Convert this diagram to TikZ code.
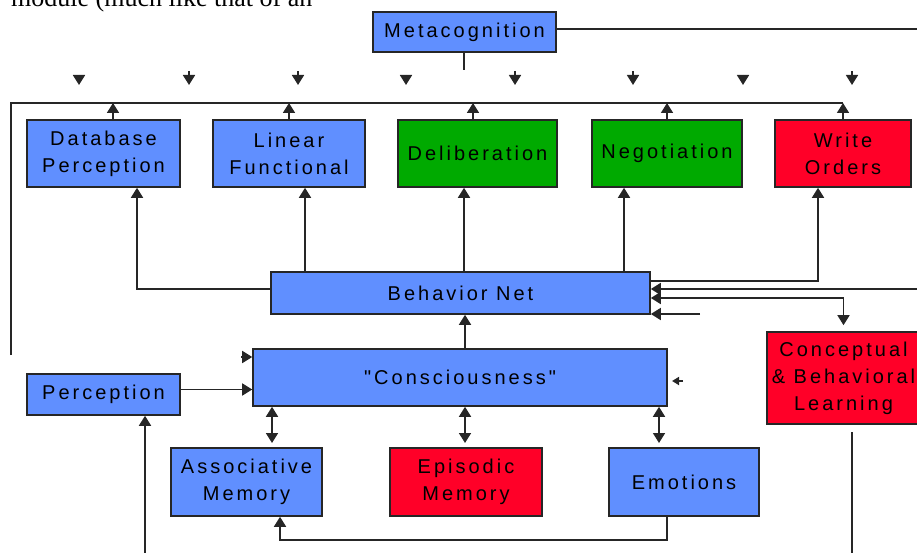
\documentclass[tikz,border=0pt]{standalone}
\usepackage{fontspec}
\setmainfont[Ligatures=TeXOff]{Liberation Sans}
\newfontfamily\bodyserif{Liberation Serif}
\usetikzlibrary{arrows.meta}
\definecolor{modblue}{RGB}{96,143,255}
\definecolor{modgreen}{RGB}{0,170,0}
\definecolor{modred}{RGB}{255,0,40}
\tikzset{
  module/.style={draw=black!85, line width=1.6pt, inner sep=0pt, align=center,
    font=\fontsize{20}{27}\selectfont\addfontfeature{LetterSpace=15}},
  blue/.style={module, fill=modblue},
  green/.style={module, fill=modgreen},
  red/.style={module, fill=modred},
  wire/.style={line width=1.7pt, draw=black!85},
  arr/.style={wire, -{Triangle[width=12pt,length=10pt]}},
  biarr/.style={wire, {Triangle[width=12pt,length=10pt]}-{Triangle[width=12pt,length=10pt]}},
  tick/.style={wire, -{Triangle[width=8pt,length=7pt]}},
}
\begin{document}
\begin{tikzpicture}[x=1pt, y=-1pt]
\useasboundingbox (0,0) rectangle (917,553);
\clip (0,0) rectangle (917,553);

% running text above the figure
\node[anchor=base west, inner sep=0pt, font=\bodyserif\fontsize{26}{30}\selectfont] (caption) at (11,7) {module (much like that of an};

% modules
\node[blue, minimum width=183pt, minimum height=40pt] (meta) at (464.5,32) {Metacognition};

\node[blue,  minimum width=153pt, minimum height=67pt] (dbp)   at (103.5,153.5) {Database\\Perception};
\node[blue,  minimum width=152pt, minimum height=67pt] (lf)    at (289,153.5)   {Linear\\Functional};
\node[green, minimum width=159pt, minimum height=67pt] (delib) at (477.5,153.5) {Deliberation};
\node[green, minimum width=150pt, minimum height=67pt] (nego)  at (667,153.5)   {Negotiation};
\node[red,   minimum width=136pt, minimum height=67pt] (wo)    at (843,153.5)   {Write\\Orders};

\node[blue, minimum width=379pt, minimum height=42pt] (bn)   at (460.5,293) {Behavior Net};
\node[blue, minimum width=414pt, minimum height=57pt] (cons) at (460,377.5) {"Consciousness"};
\node[blue, minimum width=153pt, minimum height=41pt] (perc) at (103.5,394.5) {Perception};
\node[red,  minimum width=153pt, minimum height=92pt] (cbl)  at (843.5,378) {Conceptual\\\& Behavioral\\Learning};

\node[blue, minimum width=151pt, minimum height=68pt] (am)  at (246.5,482) {Associative\\Memory};
\node[red,  minimum width=152pt, minimum height=68pt] (em)  at (466,482)   {Episodic\\Memory};
\node[blue, minimum width=150pt, minimum height=68pt] (emo) at (684,482)   {Emotions};

% metacognition outputs
\coordinate (metaR) at (917,29);
\draw[wire] ([yshift=3pt]meta.east) -- (metaR);
\coordinate (metaD) at (464,70);
\draw[wire] (meta.south -| metaD) -- (metaD);

% loose arrowheads under metacognition
\foreach \x/\y [count=\i] in {79/75, 189/71, 298/71, 406/75, 515/71, 633/71, 743/75, 852/71} {
  \coordinate (drop\i) at (\x,\y);
  \draw[arr] (drop\i) -- (\x,85);
}

% output bus along the top and left
\coordinate (busL) at (11,355);
\coordinate (busTL) at (11,103);
\coordinate (busTR) at (843,103);
\draw[wire] (busL) -- (busTL) -- (busTR);
\foreach \n/\dx in {dbp/9.5, lf/0, delib/-4.5, nego/0, wo/0} {
  \coordinate (\n Up) at ([xshift=\dx pt]\n.north);
  \draw[arr] (\n Up) -- (\n Up |- busTL);
}

% behavior net to action modules
\coordinate (dbpIn) at ([xshift=33.5pt]dbp.south);
\draw[arr] ([yshift=4pt]bn.west) -| (dbpIn);
\coordinate (lfIn) at ([xshift=16pt]lf.south);
\draw[arr] (lfIn |- bn.north) -- (lfIn);
\coordinate (delibIn) at ([xshift=-13.5pt]delib.south);
\draw[arr] (delibIn |- bn.north) -- (delibIn);
\coordinate (negoIn) at ([xshift=-43pt]nego.south);
\draw[arr] (negoIn |- bn.north) -- (negoIn);
\coordinate (woIn) at ([xshift=-25pt]wo.south);
\draw[arr] ([yshift=12pt]bn.east) -| (woIn);

% inputs on the right of the behavior net
\coordinate (bnR1) at (917,289);
\draw[arr] (bnR1) -- (bnR1 -| bn.east);
\coordinate (bnR2) at (843.5,298);
\draw[biarr, shorten >=6pt] (bnR2 -| bn.east) -- (bnR2) -- (cbl.north);
\coordinate (bnR3) at (700,314);
\draw[arr] (bnR3) -- (bnR3 -| bn.east);

% consciousness
\coordinate (consUp) at (465,349);
\draw[arr] (consUp) -- (consUp |- bn.south);
\coordinate (consL) at (241,357);
\draw[arr] (consL) -- (consL -| cons.west);
\coordinate (percOut) at ([yshift=5pt]perc.east);
\draw[arr] (percOut) -- (percOut -| cons.west);
\coordinate (consR) at (683,381);
\draw[tick] (consR) -- (672,381);

% consciousness to memories and emotions
\foreach \n/\x in {am/272, em/465, emo/659} {
  \coordinate (\n Top) at (\x,448);
  \draw[biarr, shorten >=5pt] (\n Top |- cons.south) -- (\n Top);
}

% perception input from below
\coordinate (percSrc) at (145,553);
\draw[arr] (percSrc) -- (percSrc |- perc.south);

% learning output
\coordinate (cblOut) at (852,432);
\coordinate (cblEnd) at (852,553);
\draw[wire] (cblOut) -- (cblEnd);

% emotions feed back to associative memory
\coordinate (emoOut) at ([xshift=-17pt]emo.south);
\coordinate (fbCorner) at (280,540);
\coordinate (amIn) at ([xshift=33.5pt]am.south);
\draw[arr] (emoOut) |- (fbCorner) -- (amIn);
\end{tikzpicture}
\end{document}
